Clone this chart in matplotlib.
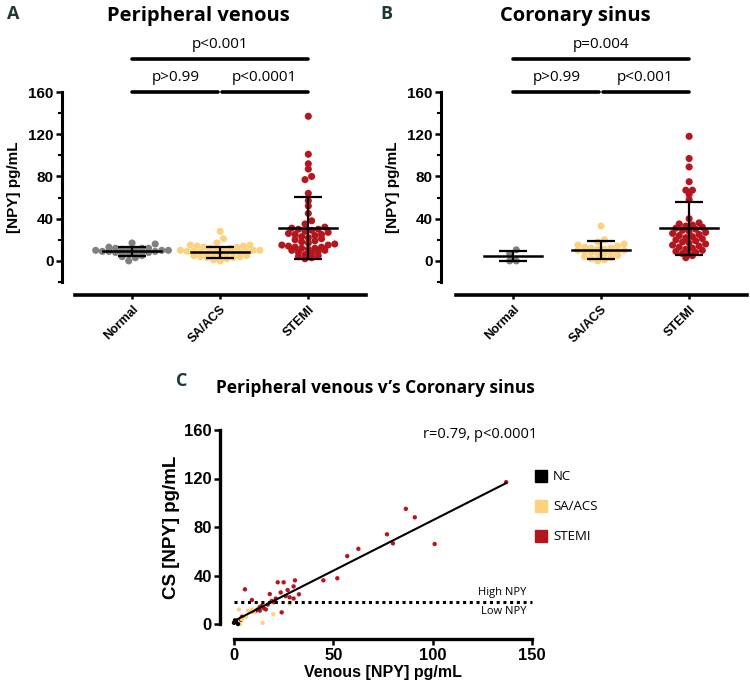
import matplotlib
matplotlib.use("Agg")
import matplotlib.pyplot as plt
import numpy as np

groups = ["Normal", "SA/ACS", "STEMI"]
colors = ["#808080", "#fdd27e", "#b5161d"]

# panel A - peripheral venous NPY (pg/mL)
pv_normal = [17, 16, 13, 12, 12, 12, 11, 11, 11, 10, 10, 10, 9, 9, 9, 8, 8, 8, 7, 7, 6, 5, 4, 3, 0]
pv_sa = [28, 21, 17, 15, 15, 14, 14, 13, 13, 12, 12, 11, 11, 10, 10, 10, 9, 9, 9, 8, 8, 8,
         7, 7, 6, 6, 5, 5, 4, 4, 3, 3, 2, 1, 0]
pv_stemi = [137, 101, 92, 87, 80, 77, 64, 57, 52, 45, 38, 35, 32, 31, 30, 30, 29, 28, 27, 26,
            25, 25, 24, 23, 22, 21, 20, 19, 18, 17, 16, 15, 15, 14, 13, 13, 12, 12, 11, 10,
            10, 9, 8, 7, 6, 5, 4, 3, 2]
pv_mean = [9, 8, 31]
pv_sd = [4, 5, 29.5]

# panel B - coronary sinus NPY (pg/mL)
cs_normal = [7, 10.5, 0, 0]
cs_sa = [33, 20, 18, 16, 15, 14, 13, 12, 12, 11, 11, 10, 10, 9, 9, 8, 8, 7, 6, 5, 4, 3, 2, 1, 0]
cs_stemi = [118, 97, 89, 75, 67, 67, 63, 58, 40, 36, 35, 34, 33, 32, 31, 30, 29, 28, 27, 26,
            25, 24, 23, 22, 21, 20, 19, 18, 17, 16, 15, 14, 13, 12, 11, 10, 9, 8, 7, 6, 5, 3]
cs_mean = [4.5, 10.5, 31]
cs_sd = [5, 8.5, 25]

pv_pvals = ["p>0.99", "p<0.0001", "p<0.001"]
cs_pvals = ["p>0.99", "p<0.001", "p=0.004"]

# panel C - venous vs coronary sinus
nc_x = [0, 1, 2, 0.5]
nc_y = [1, 2, 0, 3]
sa_x = [2.5, 7, 8, 9, 3, 19.8, 14.4, 28, 4, 10, 6, 1]
sa_y = [12, 11, 10, 12, 0, 8, 1, 17, 4, 10, 6, 3]
st_x = [137, 86.5, 91, 77, 80, 101, 62.6, 57, 52, 45, 5.5, 22, 25, 30.7, 30, 18, 23.5, 32.7,
        30, 24, 9, 19, 12, 13, 14, 15, 11, 10, 3.5, 4, 27, 28, 20, 17, 16, 21, 26, 13]
st_y = [117, 95, 88, 74, 66.5, 66, 62, 56, 37.7, 36, 28.6, 34.4, 34.4, 36, 31, 24.7, 26, 24.5,
        21, 9.6, 19.8, 19, 12, 14, 15, 13, 11, 10, 3.3, 6, 28, 22, 18, 16, 12, 21, 23, 11]
fit_slope = 0.83
fit_int = 2.5
npy_cut = 18

W, H = 750, 689
fig = plt.figure(figsize=(7.5, 6.89), dpi=100)
TK = "Liberation Sans"
OS = "Open Sans"


def px_axes(x0, y0, x1, y1):
    return fig.add_axes([x0 / W, 1 - y1 / H, (x1 - x0) / W, (y1 - y0) / H])


def swarm(vals, dx, binh):
    # prism-like scatter: points grouped in rows, lowest value in the middle
    vals = np.asarray(vals, float)
    offs = np.zeros(len(vals))
    bins = np.floor(vals / binh)
    for b in np.unique(bins):
        idx = np.where(bins == b)[0]
        idx = idx[np.argsort(vals[idx])]
        n = len(idx)
        slots = (np.arange(n) - (n - 1) / 2) * dx
        slots = sorted(slots, key=lambda s: (abs(s), s))
        offs[idx] = slots
    return offs


def style_labels(labels, size, weight="bold", family=TK):
    for lab in labels:
        lab.set_fontsize(size)
        lab.set_fontweight(weight)
        lab.set_family(family)


def dot_panel(ax, data, means, sds, pvals, x_lo, x_hi):
    for i, vals in enumerate(data):
        offs = swarm(vals, 0.075, 5.5)
        ax.scatter(i + offs, vals, s=26, color=colors[i], edgecolors="none", zorder=2, clip_on=False)
        ax.plot([i - 0.33, i + 0.33], [means[i]] * 2, color="k", lw=1.8, zorder=3)
        ax.errorbar(i, means[i], yerr=sds[i], color="k", lw=1.6, capsize=10, capthick=1.6, zorder=3)
    ax.set_xlim(x_lo, x_hi)
    ax.set_ylim(-20, 160)
    ax.spines[["top", "right"]].set_visible(False)
    ax.spines["left"].set_linewidth(2.2)
    ax.spines["bottom"].set_linewidth(2.6)
    ax.spines["bottom"].set_position(("outward", 9.5))
    ax.spines["bottom"].set_bounds(-0.65, 2.66)
    ax.tick_params(axis="y", which="major", length=4, width=1.8, pad=2)
    ax.tick_params(axis="y", which="minor", length=3, width=1.5)
    ax.tick_params(axis="x", length=3, width=1.8, pad=3)
    ax.set_yticks([0, 40, 80, 120, 160])
    ax.set_yticks(np.arange(-20, 161, 20), minor=True)
    ax.set_xticks([0, 1, 2])
    ax.set_xticklabels(groups)
    for lab in ax.get_xticklabels():
        lab.set_rotation(45)
        lab.set_ha("right")
        lab.set_rotation_mode("anchor")
    style_labels(ax.get_xticklabels(), 9)
    style_labels(ax.get_yticklabels(), 11)
    ax.set_ylabel("[NPY] pg/mL", fontsize=11, fontweight="bold", family=TK, labelpad=5)
    # significance bars
    kw = dict(color="k", lw=2.6, solid_capstyle="round", clip_on=False)
    ax.plot([0, 0.98], [160, 160], **kw)
    ax.plot([1.02, 2], [160, 160], **kw)
    ax.plot([0, 2], [191, 191], **kw)
    tk = dict(ha="center", va="center", fontsize=11, family=OS)
    ax.text(0.5, 174, pvals[0], **tk)
    ax.text(1.5, 174, pvals[1], **tk)
    ax.text(1.0, 205, pvals[2], **tk)


axA = px_axes(62, 92, 370, 282)
dot_panel(axA, [pv_normal, pv_sa, pv_stemi], pv_mean, pv_sd, pv_pvals, -0.795, 2.7)
axB = px_axes(441, 92, 749, 282)
dot_panel(axB, [cs_normal, cs_sa, cs_stemi], cs_mean, cs_sd, cs_pvals, -0.818, 2.68)

fig.text(198 / W, 1 - 16 / H, "Peripheral venous", ha="center", va="center",
         fontsize=14.5, fontweight="bold", family=OS)
fig.text(575 / W, 1 - 16 / H, "Coronary sinus", ha="center", va="center",
         fontsize=14.5, fontweight="bold", family=OS)
letter = dict(fontsize=13, fontweight="bold", family=OS, color="#1d3b30", va="center", ha="center")
fig.text(13 / W, 1 - 14 / H, "A", **letter)
fig.text(386 / W, 1 - 14 / H, "B", **letter)
fig.text(182 / W, 1 - 381 / H, "C", **letter)

# panel C
axC = px_axes(234, 430, 532, 624)
axC.scatter(st_x, st_y, s=10, color=colors[2], edgecolors="none", zorder=3, clip_on=False)
axC.scatter(sa_x, sa_y, s=10, color=colors[1], edgecolors="none", zorder=3, clip_on=False)
axC.scatter(nc_x, nc_y, s=10, color="k", edgecolors="none", zorder=3, clip_on=False)
xf = np.array([0, max(st_x)])
axC.plot(xf, fit_slope * xf + fit_int, color="k", lw=1.5, zorder=4)
axC.plot([0, 150], [npy_cut, npy_cut], color="k", lw=2.2, ls=(0, (1, 1.2)), zorder=4, clip_on=False)
axC.text(147, npy_cut + 3.5, "High NPY", ha="right", va="bottom", fontsize=8, family=OS)
axC.text(147, npy_cut - 3.5, "Low NPY", ha="right", va="top", fontsize=8, family=OS)
axC.text(124, 156, "r=0.79, p<0.0001", ha="center", va="center", fontsize=10.5, family=OS)
axC.set_xlim(0, 150)
axC.set_ylim(0, 160)
axC.spines[["top", "right"]].set_visible(False)
for sp in ["left", "bottom"]:
    axC.spines[sp].set_linewidth(2.4)
axC.spines["left"].set_position(("outward", 10))
axC.spines["bottom"].set_position(("outward", 11))
axC.tick_params(length=4, width=1.8, pad=2)
axC.set_xticks([0, 50, 100, 150])
axC.set_yticks([0, 40, 80, 120, 160])
style_labels(axC.get_xticklabels() + axC.get_yticklabels(), 12)
axC.set_xlabel("Venous [NPY] pg/mL", fontsize=11.5, fontweight="bold", family=TK, labelpad=2)
axC.set_ylabel("CS [NPY] pg/mL", fontsize=13.5, fontweight="bold", family=TK, labelpad=3)

leg_names = ["NC", "SA/ACS", "STEMI"]
leg_cols = ["k", colors[1], colors[2]]
for j, (nm, c) in enumerate(zip(leg_names, leg_cols)):
    yy = 476 + j * 30
    fig.patches.append(plt.Rectangle((535 / W, 1 - (yy + 6) / H), 12 / W, 12 / H,
                                     transform=fig.transFigure, color=c, figure=fig))
    fig.text(553 / W, 1 - yy / H, nm, ha="left", va="center", fontsize=9.5, family=OS)

fig.text(375 / W, 1 - 388 / H, "Peripheral venous v\u2019s Coronary sinus", ha="center", va="center",
         fontsize=12.5, fontweight="bold", family=OS)

plt.savefig("out.png", dpi=100)
